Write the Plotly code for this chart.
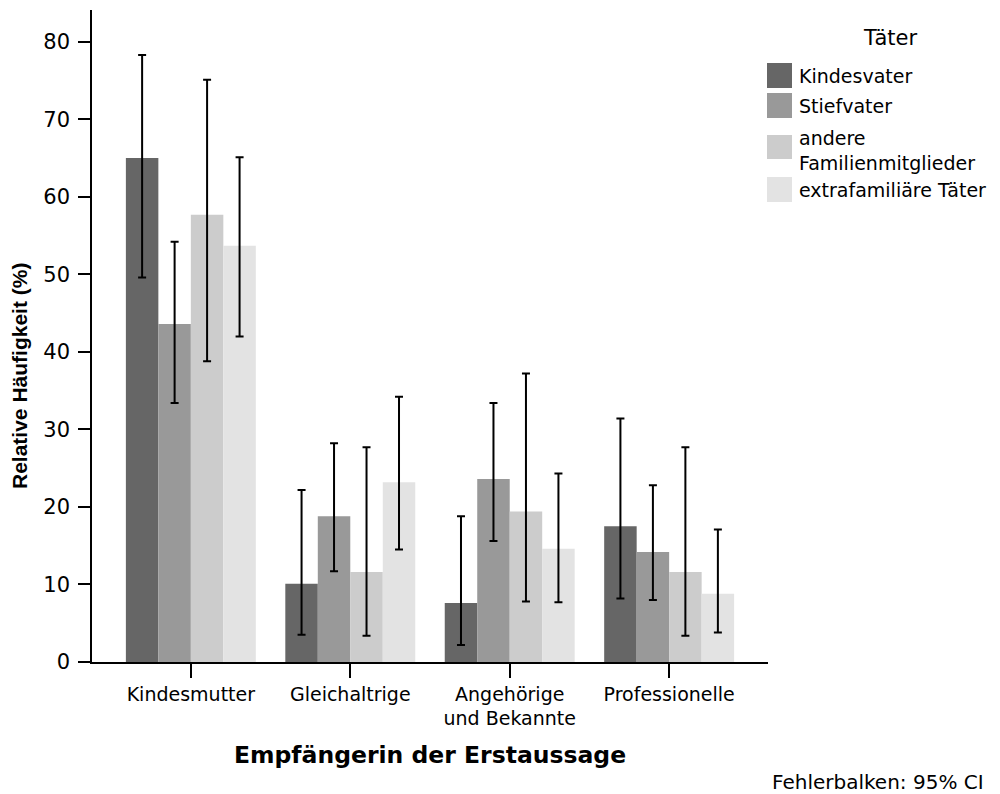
import plotly.graph_objects as go

# Empfängerin der Erstaussage (x categories)
kategorien = ["Kindesmutter", "Gleichaltrige", "Angehörige und Bekannte", "Professionelle"]
kategorie_labels = ["Kindesmutter", "Gleichaltrige", "Angehörige<br>und Bekannte", "Professionelle"]

# Täter groups (legend)
taeter = ["Kindesvater", "Stiefvater", "andere<br>Familienmitglieder", "extrafamiliäre Täter"]

# Relative Häufigkeit (%) per Täter group, with 95% CI bounds
kindesvater = [65.0, 10.1, 7.6, 17.5]
kindesvater_ci_oben = [78.3, 22.2, 18.8, 31.4]
kindesvater_ci_unten = [49.6, 3.5, 2.2, 8.2]

stiefvater = [43.6, 18.8, 23.6, 14.2]
stiefvater_ci_oben = [54.2, 28.2, 33.4, 22.8]
stiefvater_ci_unten = [33.4, 11.7, 15.6, 8.0]

andere = [57.7, 11.6, 19.4, 11.6]
andere_ci_oben = [75.1, 27.7, 37.2, 27.7]
andere_ci_unten = [38.8, 3.4, 7.8, 3.4]

extrafamiliaer = [53.7, 23.2, 14.6, 8.8]
extrafamiliaer_ci_oben = [65.1, 34.2, 24.3, 17.1]
extrafamiliaer_ci_unten = [42.0, 14.5, 7.7, 3.8]

y_ticks = [0, 10, 20, 30, 40, 50, 60, 70, 80]

# styling
farben = ["#666666", "#999999", "#cccccc", "#e3e3e3"]
TEXT_FONT = "DejaVu Sans"
W, H = 1000, 794
M_L, M_R, M_T, M_B = 92, 232, 10, 132
PW, PH = W - M_L - M_R, H - M_T - M_B


def xp(px):
    return (px - M_L) / PW


def yp(py):
    return (H - M_B - py) / PH


serien = [
    (kindesvater, kindesvater_ci_oben, kindesvater_ci_unten),
    (stiefvater, stiefvater_ci_oben, stiefvater_ci_unten),
    (andere, andere_ci_oben, andere_ci_unten),
    (extrafamiliaer, extrafamiliaer_ci_oben, extrafamiliaer_ci_unten),
]

fig = go.Figure()
for name, farbe, (werte, oben, unten) in zip(taeter, farben, serien):
    fig.add_trace(go.Bar(
        x=kategorien,
        y=werte,
        name=name.replace("<br>", " "),
        marker=dict(color=farbe, line=dict(width=0)),
        error_y=dict(
            type="data",
            symmetric=False,
            array=[o - w for o, w in zip(oben, werte)],
            arrayminus=[w - u for w, u in zip(werte, unten)],
            color="black",
            thickness=2,
            width=4,
        ),
        showlegend=False,
    ))

# legend drawn as swatches + labels on the right
legend_swatches = [(63, 88), (93, 118), (135, 159), (177, 202)]
legend_text_y = [76, 106, 150, 190]
shapes = []
annotations = []
for name, farbe, (y0, y1), ty in zip(taeter, farben, legend_swatches, legend_text_y):
    shapes.append(dict(
        type="rect", xref="paper", yref="paper",
        x0=xp(767), x1=xp(792), y0=yp(y1), y1=yp(y0),
        fillcolor=farbe, line=dict(width=0),
    ))
    annotations.append(dict(
        xref="paper", yref="paper", x=xp(797), y=yp(ty),
        xanchor="left", yanchor="middle", align="left",
        text=name, showarrow=False,
        font=dict(family=TEXT_FONT, size=19, color="black"),
    ))

annotations += [
    dict(xref="paper", yref="paper", x=xp(890), y=yp(38),
         xanchor="center", yanchor="middle", text="Täter", showarrow=False,
         font=dict(family=TEXT_FONT, size=21, color="black")),
    dict(xref="paper", yref="paper", x=xp(19), y=yp(376),
         xanchor="center", yanchor="middle", textangle=-90,
         text="<b>Relative Häufigkeit (%)</b>", showarrow=False,
         font=dict(family="Liberation Sans, Arial", size=21, color="black")),
    dict(xref="paper", yref="paper", x=xp(430), y=yp(755),
         xanchor="center", yanchor="middle",
         text="<b>Empfängerin der Erstaussage</b>", showarrow=False,
         font=dict(family=TEXT_FONT, size=23.5, color="black")),
    dict(xref="paper", yref="paper", x=xp(986), y=yp(782),
         xanchor="right", yanchor="middle",
         text="Fehlerbalken: 95% CI", showarrow=False,
         font=dict(family=TEXT_FONT, size=20, color="black")),
]

fig.update_layout(
    width=W, height=H,
    margin=dict(l=M_L, r=M_R, t=M_T, b=M_B, pad=0),
    paper_bgcolor="white",
    plot_bgcolor="white",
    barmode="group",
    bargap=0.185,
    bargroupgap=0,
    shapes=shapes,
    annotations=annotations,
    showlegend=False,
)

fig.update_xaxes(
    type="category",
    range=[-0.62, 3.62],
    tickvals=kategorien,
    ticktext=kategorie_labels,
    showline=True, linecolor="black", linewidth=1.5,
    ticks="outside", ticklen=14, tickwidth=2, tickcolor="black",
    showgrid=False, zeroline=False,
    tickfont=dict(family=TEXT_FONT, size=19, color="black"),
)

fig.update_yaxes(
    range=[0, 84.1],
    tickvals=y_ticks,
    showline=True, linecolor="black", linewidth=1.5,
    ticks="outside", ticklen=12, tickwidth=1.5, tickcolor="black",
    ticklabelstandoff=4,
    showgrid=False, zeroline=False,
    tickfont=dict(family=TEXT_FONT, size=21, color="black"),
)

fig.write_html("out.html")
